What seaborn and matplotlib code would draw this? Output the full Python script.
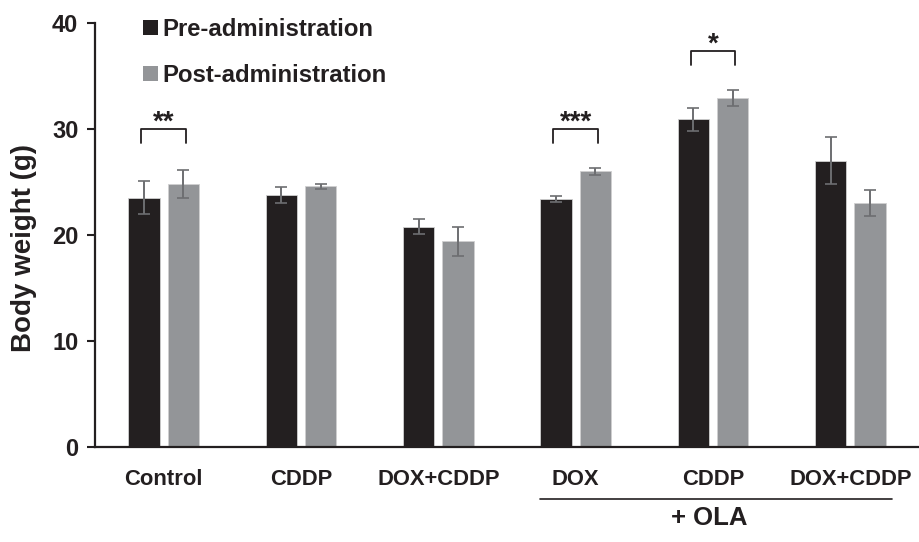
import matplotlib
matplotlib.use("Agg")
import matplotlib.pyplot as plt
import seaborn as sns
import pandas as pd
import numpy as np
from matplotlib.patches import Patch

groups = ["Control", "CDDP", "DOX+CDDP", "DOX+OLA", "CDDP+OLA", "DOX+CDDP+OLA"]
tick_labels = ["Control", "CDDP", "DOX+CDDP", "DOX", "CDDP", "DOX+CDDP"]
pre_vals = [23.5, 23.8, 20.8, 23.4, 30.9, 27.0]
post_vals = [24.8, 24.6, 19.4, 26.0, 32.9, 23.0]
pre_err = [1.55, 0.75, 0.75, 0.3, 1.05, 2.2]
post_err = [1.35, 0.25, 1.4, 0.3, 0.75, 1.2]
series = ["Pre-administration", "Post-administration"]
sig_groups = [0, 3, 4]
sig_labels = ["**", "***", "*"]
sig_heights = [30.0, 30.0, 37.4]

df = pd.DataFrame({
    "group": groups * 2,
    "value": pre_vals + post_vals,
    "series": [series[0]] * 6 + [series[1]] * 6,
})

sns.set_theme(style="white")
plt.rcParams["font.family"] = ["Liberation Sans", "DejaVu Sans"]
plt.rcParams["font.weight"] = "bold"

ink = "#231f20"
colors = ["#231f20", "#939598"]
fig = plt.figure(figsize=(9.19, 5.42), dpi=100)
ax = fig.add_axes([95 / 919, 1 - 447 / 542, 1 - 95 / 919, 424 / 542])

sns.barplot(data=df, x="group", y="value", hue="series", order=groups,
            hue_order=series, palette=colors, width=0.57, gap=0.2,
            errorbar=None, ax=ax, legend=False, saturation=1,
            edgecolor="#d0d0d0", linewidth=0.6)

errs = [pre_err, post_err]
bar_conts = list(ax.containers)
centers = []
for ci, cont in enumerate(bar_conts):
    xs = [b.get_x() + b.get_width() / 2 for b in cont]
    ys = [b.get_height() for b in cont]
    centers.append(xs)
    ax.errorbar(xs, ys, yerr=errs[ci], fmt="none", ecolor="#6d6e71",
                elinewidth=1.4, capsize=4, capthick=1.2, zorder=5)

for g, lab, h in zip(sig_groups, sig_labels, sig_heights):
    x0 = centers[0][g] - 0.02
    x1 = centers[1][g] + 0.02
    ax.plot([x0, x0, x1, x1], [h - 1.35, h, h, h - 1.35], color=ink, lw=1.3,
            zorder=6)
    ax.text((x0 + x1) / 2, h - 0.1, lab, ha="center", va="baseline",
            fontsize=20, fontweight="bold", color=ink)

ax.set_ylim(0, 40)
ax.set_xlim(-0.5, 5.5)
ax.set_yticks([0, 10, 20, 30, 40])
ax.set_yticklabels(["0", "10", "20", "30", "40"], fontsize=17, fontweight="bold",
                   color=ink)
ax.set_xticks(range(len(groups)))
ax.set_xticklabels(tick_labels, fontsize=15.8, fontweight="bold", color=ink)
ax.tick_params(axis="x", length=0, pad=15.5)
ax.tick_params(axis="y", length=6, width=1.5, color=ink, pad=6, left=True)
ax.set_xlabel("")
ax.set_ylabel("Body weight (g)", fontsize=20, fontweight="bold", color=ink)
ax.yaxis.set_label_coords(-0.0705, 0.47)
for s in ["top", "right"]:
    ax.spines[s].set_visible(False)
for s in ["left", "bottom"]:
    ax.spines[s].set_color(ink)
    ax.spines[s].set_linewidth(1.6)

# + OLA annotation
ax.plot([2.74, 5.30], [-0.1226, -0.1226], color=ink, lw=1.2,
        transform=ax.get_xaxis_transform(), clip_on=False)
ax.text(3.97, -0.168, "+ OLA", transform=ax.get_xaxis_transform(), ha="center",
        va="center", fontsize=18.5, fontweight="bold", color=ink)

handles = [Patch(facecolor=c, edgecolor="none") for c in colors]
leg = ax.legend(handles, series, loc="upper left", frameon=False,
                bbox_to_anchor=(143 / 919, 1 - 18 / 542),
                bbox_transform=fig.transFigure, borderaxespad=0, borderpad=0,
                handlelength=0.62, handleheight=0.62, handletextpad=0.2,
                labelspacing=0.95, prop={"size": 17.2, "weight": "bold"})
for t in leg.get_texts():
    t.set_color(ink)

fig.savefig("out.png", dpi=100)
